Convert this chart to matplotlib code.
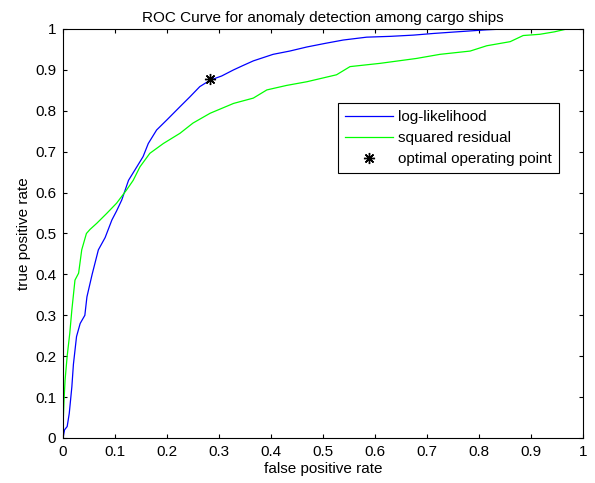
import matplotlib
matplotlib.use("Agg")
import matplotlib.pyplot as plt

# ROC points (false positive rate, true positive rate)
loglik_fpr = [0.0, 0.003, 0.008, 0.012, 0.017, 0.02, 0.026, 0.033, 0.042, 0.046,
              0.056, 0.068, 0.081, 0.094, 0.103, 0.113, 0.126, 0.142, 0.154, 0.164,
              0.18, 0.20, 0.225, 0.244, 0.263, 0.283, 0.305, 0.328, 0.345, 0.366,
              0.404, 0.436, 0.469, 0.505, 0.539, 0.584, 0.63, 0.674, 0.712, 0.757,
              0.815, 0.85, 1.0]
loglik_tpr = [0.0, 0.02, 0.028, 0.06, 0.125, 0.18, 0.248, 0.28, 0.30, 0.345,
              0.40, 0.46, 0.49, 0.533, 0.555, 0.582, 0.63, 0.663, 0.688, 0.72,
              0.753, 0.778, 0.81, 0.834, 0.859, 0.875, 0.885, 0.90, 0.910, 0.922,
              0.938, 0.946, 0.956, 0.965, 0.973, 0.980, 0.982, 0.985, 0.989, 0.993,
              0.998, 1.0, 1.0]

resid_fpr = [0.0, 0.0, 0.002, 0.004, 0.008, 0.013, 0.017, 0.023, 0.03, 0.036,
             0.045, 0.052, 0.065, 0.084, 0.103, 0.122, 0.135, 0.148, 0.167, 0.193,
             0.225, 0.25, 0.283, 0.328, 0.366, 0.392, 0.43, 0.469, 0.526, 0.552,
             0.61, 0.68, 0.725, 0.783, 0.815, 0.86, 0.885, 0.917, 0.945, 0.969, 1.0]
resid_tpr = [0.0, 0.028, 0.093, 0.142, 0.2, 0.256, 0.313, 0.386, 0.403, 0.46,
             0.50, 0.51, 0.525, 0.549, 0.574, 0.606, 0.63, 0.663, 0.696, 0.72,
             0.745, 0.77, 0.794, 0.818, 0.831, 0.851, 0.862, 0.871, 0.888, 0.908,
             0.916, 0.928, 0.938, 0.946, 0.959, 0.969, 0.984, 0.987, 0.993, 1.0, 1.0]

optimal_pt = (0.283, 0.877)

ticks = [0, 0.1, 0.2, 0.3, 0.4, 0.5, 0.6, 0.7, 0.8, 0.9, 1]
tick_labels = ["0", "0.1", "0.2", "0.3", "0.4", "0.5", "0.6", "0.7", "0.8", "0.9", "1"]

plt.rcParams["font.family"] = ["Liberation Sans", "DejaVu Sans"]
plt.rcParams["font.size"] = 11

fig = plt.figure(figsize=(5.95, 4.83), dpi=100)
ax = fig.add_axes([0.1059, 0.0932, 0.8739, 0.8468])

ax.plot(loglik_fpr, loglik_tpr, color=(0, 0, 1), lw=0.9, label="log-likelihood")
ax.plot(resid_fpr, resid_tpr, color=(0, 1, 0), lw=0.9, label="squared residual")
ax.plot([optimal_pt[0]], [optimal_pt[1]], marker=(8, 2, 0), color="black", ms=8,
        mew=1.0, linestyle="none", label="optimal operating point")

ax.set_xlim(0, 1)
ax.set_ylim(0, 1)
ax.set_xticks(ticks)
ax.set_xticklabels(tick_labels)
ax.set_yticks(ticks)
ax.set_yticklabels(tick_labels)
ax.tick_params(direction="in", length=3, width=0.8, top=True, right=True,
               labelsize=11, pad=5)
for s in ax.spines.values():
    s.set_linewidth(0.8)

ax.set_title("ROC Curve for anomaly detection among cargo ships", fontsize=11, pad=5)
ax.set_xlabel("false positive rate", fontsize=11, labelpad=2)
ax.set_ylabel("true positive rate", fontsize=11, labelpad=3)

leg = ax.legend(loc="upper right", bbox_to_anchor=(0.953, 0.818), fancybox=False,
                edgecolor="black", framealpha=1, borderpad=0.45, handlelength=3.1,
                labelspacing=0.45, handletextpad=0.35, borderaxespad=0,
                fontsize=11)
leg.get_frame().set_linewidth(0.8)

fig.savefig("out.png", dpi=100)
